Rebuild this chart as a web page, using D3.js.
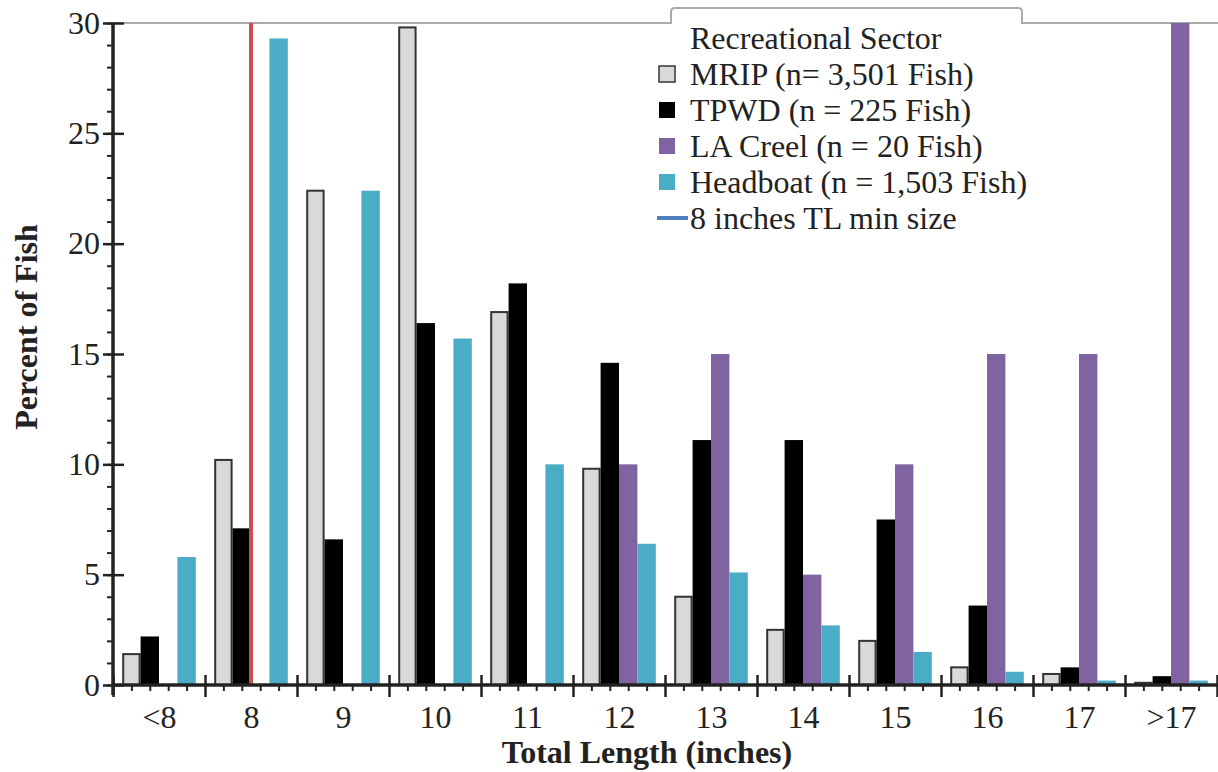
<!DOCTYPE html>
<html>
<head>
<meta charset="utf-8">
<script src="https://cdn.jsdelivr.net/npm/d3@7"></script>
<style>
  body { margin: 0; background: #fff; }
  text { font-family: "Liberation Serif", "Times New Roman", serif; fill: #222; }
</style>
</head>
<body>
<svg id="chart" width="1218" height="772"></svg>
<script>
// size classes (inches, total length)
const categories = ['<8', '8', '9', '10', '11', '12', '13', '14', '15', '16', '17', '>17'];

// percent of fish per class, by sector
const mripValues     = [1.4, 10.2, 22.4, 29.8, 16.9, 9.8, 4.0, 2.5, 2.0, 0.8, 0.5, 0.1];
const tpwdValues     = [2.2, 7.1, 6.6, 16.4, 18.2, 14.6, 11.1, 11.1, 7.5, 3.6, 0.8, 0.4];
const laCreelValues  = [0, 0, 0, 0, 0, 10, 15, 5, 10, 15, 15, 30];
const headboatValues = [5.8, 29.3, 22.4, 15.7, 10.0, 6.4, 5.1, 2.7, 1.5, 0.6, 0.2, 0.2];

const seriesNames = ['MRIP (n= 3,501 Fish)', 'TPWD (n = 225 Fish)', 'LA Creel (n = 20 Fish)', 'Headboat (n = 1,503 Fish)'];
const minSizeLabel = '8 inches TL min size';
const minSizeIndex = 1; // the "8" class
const yTicks = [0, 5, 10, 15, 20, 25, 30];

const series = [
  { name: seriesNames[0], values: mripValues, fill: '#d9d9d9', stroke: '#333' },
  { name: seriesNames[1], values: tpwdValues, fill: '#000', stroke: null },
  { name: seriesNames[2], values: laCreelValues, fill: '#8064a2', stroke: null },
  { name: seriesNames[3], values: headboatValues, fill: '#4bacc6', stroke: null }
];

const svg = d3.select('#chart');
const plotLeft = 113, plotRight = 1217, plotTop = 23, plotBottom = 685;
const fontSize = 32;

const x = d3.scaleLinear().domain([0, categories.length]).range([plotLeft, plotRight]);
const y = d3.scaleLinear().domain([0, 30]).range([plotBottom, plotTop]);
const slot = x(0.2) - x(0);

// top frame line, broken where the legend tab sits
svg.append('path')
  .attr('d', `M${plotLeft},${plotTop}H671 M1022,${plotTop}H1218`)
  .attr('stroke', '#aaa').attr('stroke-width', 2).attr('fill', 'none');

// bars
svg.append('defs').append('clipPath').attr('id', 'plotClip')
  .append('rect').attr('x', plotLeft).attr('y', plotTop).attr('width', plotRight - plotLeft).attr('height', plotBottom - plotTop);
const barsG = svg.append('g').attr('clip-path', 'url(#plotClip)');

series.forEach((s, k) => {
  barsG.selectAll('.bar' + k).data(s.values).join('rect')
    .attr('class', 'bar' + k)
    .attr('x', (d, i) => x(i + 0.2 * (k + 1)) - slot / 2 + (s.stroke ? 1 : 0))
    .attr('width', slot - (s.stroke ? 2 : 0))
    .attr('y', d => y(d))
    .attr('height', d => y(0) - y(d))
    .attr('fill', s.fill)
    .attr('stroke', s.stroke)
    .attr('stroke-width', s.stroke ? 2 : 0)
    .style('display', d => d > 0 ? null : 'none');
});

// min size line
svg.append('line')
  .attr('x1', x(minSizeIndex + 0.5)).attr('x2', x(minSizeIndex + 0.5))
  .attr('y1', y(30)).attr('y2', y(0))
  .attr('stroke', '#c9504d').attr('stroke-width', 4);

// y axis
const yMinor = svg.append('g').attr('transform', `translate(${plotLeft},0)`)
  .call(d3.axisLeft(y).tickValues(d3.range(0, 31)).tickSize(6).tickFormat(''));
yMinor.select('.domain').remove();
yMinor.selectAll('line').attr('stroke', '#222').attr('stroke-width', 2);

const yAxis = svg.append('g').attr('transform', `translate(${plotLeft},0)`)
  .call(d3.axisLeft(y).tickValues(yTicks).tickSize(10).tickPadding(3));
yAxis.select('.domain').remove();
yAxis.selectAll('line').attr('x1', 11).attr('stroke', '#222').attr('stroke-width', 2.5);
yAxis.selectAll('text').attr('font-family', '"Liberation Serif", serif').attr('font-size', fontSize).attr('fill', '#333');
svg.append('line').attr('x1', plotLeft).attr('x2', plotLeft).attr('y1', plotTop).attr('y2', plotBottom + 10)
  .attr('stroke', '#222').attr('stroke-width', 3.5);

// x axis
const minorX = [];
categories.forEach((c, i) => { [0.2, 0.4, 0.6, 0.8].forEach(f => minorX.push(i + f)); });
const xMinor = svg.append('g').attr('transform', `translate(0,${plotBottom})`)
  .call(d3.axisBottom(x).tickValues(minorX).tickSize(6).tickFormat(''));
xMinor.select('.domain').remove();
xMinor.selectAll('line').attr('stroke', '#222').attr('stroke-width', 2);

const xMajor = svg.append('g').attr('transform', `translate(0,${plotBottom})`)
  .call(d3.axisBottom(x).tickValues(d3.range(0, categories.length + 1)).tickSize(12).tickFormat(''));
xMajor.select('.domain').remove();
xMajor.selectAll('line').attr('y1', -10).attr('stroke', '#222').attr('stroke-width', 2.5);

const xLabels = svg.append('g').attr('transform', `translate(0,${plotBottom})`)
  .call(d3.axisBottom(x).tickValues(categories.map((c, i) => i + 0.5)).tickSize(0).tickPadding(20)
    .tickFormat((d, i) => categories[i]));
xLabels.select('.domain').remove();
xLabels.selectAll('text').attr('font-family', '"Liberation Serif", serif').attr('font-size', fontSize).attr('fill', '#333');

svg.append('line').attr('x1', plotLeft).attr('x2', plotRight).attr('y1', plotBottom).attr('y2', plotBottom)
  .attr('stroke', '#222').attr('stroke-width', 3.5);

// axis titles
svg.append('text').text('Total Length (inches)')
  .attr('x', 647).attr('y', 763).attr('text-anchor', 'middle')
  .attr('font-size', fontSize).attr('font-weight', 'bold');
svg.append('text').text('Percent of Fish')
  .attr('transform', 'translate(37,327) rotate(-90)').attr('text-anchor', 'middle')
  .attr('font-size', fontSize).attr('font-weight', 'bold');

// legend tab
svg.append('path')
  .attr('d', `M671,${plotTop + 1}V12Q671,8 675,8H1018Q1022,8 1022,12V${plotTop + 1}`)
  .attr('fill', '#fff').attr('stroke', '#aaa').attr('stroke-width', 2);

const legend = svg.append('g');
legend.append('text').text('Recreational Sector').attr('x', 690).attr('y', 38)
  .attr('dy', '0.35em').attr('font-size', fontSize);
series.forEach((s, k) => {
  const cy = 74 + k * 36;
  legend.append('rect').attr('x', 659).attr('y', cy - 8).attr('width', 16).attr('height', 16)
    .attr('fill', s.fill).attr('stroke', s.stroke).attr('stroke-width', s.stroke ? 1.5 : 0);
  legend.append('text').text(s.name).attr('x', 690).attr('y', cy)
    .attr('dy', '0.35em').attr('font-size', fontSize);
});
const lineY = 74 + 4 * 36;
legend.append('line').attr('x1', 657).attr('x2', 688).attr('y1', lineY).attr('y2', lineY)
  .attr('stroke', '#4f81bd').attr('stroke-width', 4);
legend.append('text').text(minSizeLabel).attr('x', 690).attr('y', lineY)
  .attr('dy', '0.35em').attr('font-size', fontSize);
</script>
</body>
</html>
